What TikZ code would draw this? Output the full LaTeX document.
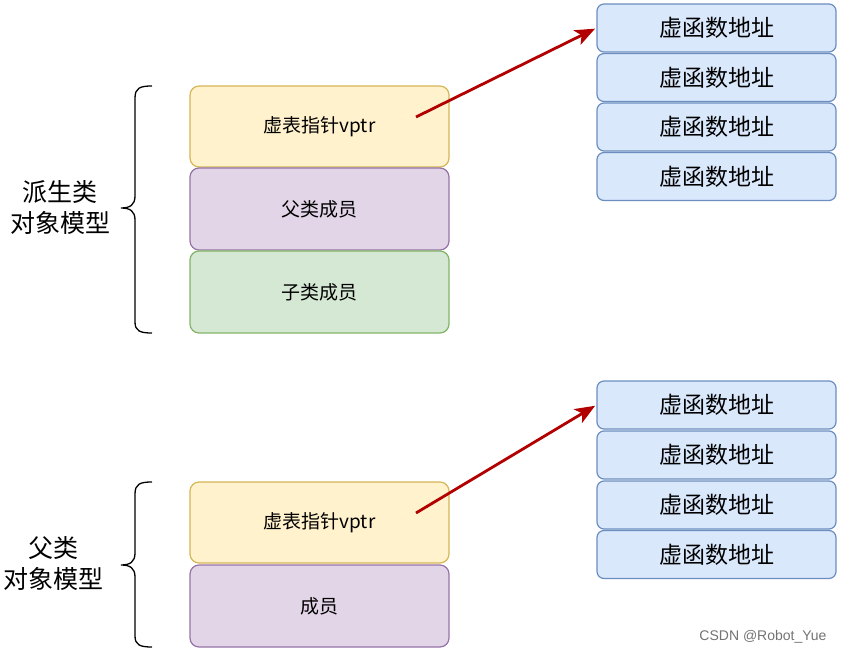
\documentclass[tikz,border=0pt]{standalone}
\usepackage{fontspec}
\setmainfont{Noto Sans CJK SC}
\newfontfamily\latinsans{Liberation Sans}
\usetikzlibrary{arrows.meta}
\definecolor{yfill}{HTML}{FFF2CC}\definecolor{ydraw}{HTML}{D6B656}
\definecolor{pfill}{HTML}{E1D5E7}\definecolor{pdraw}{HTML}{9673A6}
\definecolor{gfill}{HTML}{D5E8D4}\definecolor{gdraw}{HTML}{82B366}
\definecolor{bfill}{HTML}{DAE8FC}\definecolor{bdraw}{HTML}{6C8EBF}
\definecolor{arrred}{HTML}{B20000}
\begin{document}
\begin{tikzpicture}[x=1pt,y=-1pt,
  membox/.style={draw,rounded corners=9pt,line width=1.2pt,minimum width=259pt,inner sep=0pt,font=\fontsize{19}{22}\selectfont},
  ybox/.style={membox,fill=yfill,draw=ydraw,minimum height=81pt},
  pbox/.style={membox,fill=pfill,draw=pdraw,minimum height=82pt},
  gbox/.style={membox,fill=gfill,draw=gdraw,minimum height=82pt},
  bbox/.style={draw=bdraw,fill=bfill,rounded corners=7pt,line width=1.2pt,minimum width=239pt,minimum height=48pt,inner sep=0pt,font=\fontsize{23}{26}\selectfont},
  lbl/.style={align=center,font=\fontsize{25}{31}\selectfont},
  brace/.style={line width=1.3pt,black},
  ptr/.style={arrred,line width=2.8pt,shorten >=1.5pt,-{Stealth[length=20pt,width=16pt,inset=5pt]}}
]
\useasboundingbox (0,0) rectangle (841,652);
% top group
\node[ybox] (y1) at (319.5,126.5) {虚表指针vptr};
\node[pbox] (p1) at (319.5,209) {父类成员};
\node[gbox] (g1) at (319.5,292) {子类成员};
\node[bbox] (b1) at (716.5,28) {虚函数地址};
\node[bbox] (b2) at (716.5,77.5) {虚函数地址};
\node[bbox] (b3) at (716.5,127) {虚函数地址};
\node[bbox] (b4) at (716.5,176.5) {虚函数地址};
\coordinate (s1) at (416,117);
\draw[ptr] (s1) -- (b1.west);
\node[lbl] (l1) at (60,208) {派生类\\对象模型};
\draw[brace] (152,86) .. controls (140,86) and (135,88) .. (135,98) -- (135,196) .. controls (135,205) and (130,208) .. (121,208) .. controls (130,208) and (135,211) .. (135,220) -- (135,322) .. controls (135,331) and (140,333) .. (152,333);
% bottom group
\node[ybox] (y2) at (319.5,522.5) {虚表指针vptr};
\node[pbox] (p2) at (319.5,606) {成员};
\node[bbox] (c1) at (716.5,405) {虚函数地址};
\node[bbox] (c2) at (716.5,455) {虚函数地址};
\node[bbox] (c3) at (716.5,505) {虚函数地址};
\node[bbox] (c4) at (716.5,554.5) {虚函数地址};
\coordinate (s2) at (416,513);
\draw[ptr] (s2) -- (c1.west);
\node[lbl] (l2) at (53,564) {父类\\对象模型};
\draw[brace] (152,482) .. controls (140,482) and (135,484) .. (135,494) -- (135,553) .. controls (135,562) and (130,565) .. (121,565) .. controls (130,565) and (135,568) .. (135,577) -- (135,636) .. controls (135,645) and (140,647) .. (152,647);
\node[font=\latinsans\fontsize{14}{16}\selectfont,text=black!55] (wm) at (763,637) {CSDN @Robot\_Yue};
\end{tikzpicture}
\end{document}
